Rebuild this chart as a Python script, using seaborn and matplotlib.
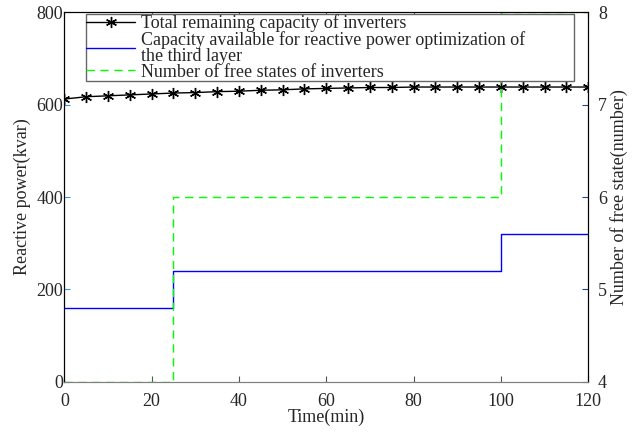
import numpy as np
import pandas as pd
import matplotlib
matplotlib.use("Agg")
import matplotlib.pyplot as plt
import seaborn as sns

# Time axis for the remaining-capacity curve (min)
time_min = list(range(0, 121, 5))
total_capacity = [612, 617, 619, 621, 623, 625, 626, 628, 629, 631, 632, 634, 635,
                  636, 637, 637, 638, 638, 638, 638, 638, 638, 638, 638, 638]

# Step series: change points (min) and values held until next change
step_time = [0, 25, 100, 120]
third_layer_capacity = [160, 240, 320, 320]
free_states = [4, 6, 8, 8]

x_ticks = [0, 20, 40, 60, 80, 100, 120]
left_ticks = [0, 200, 400, 600, 800]
right_ticks = [4, 5, 6, 7, 8]

sns.set_theme(style="white")
plt.rcParams["font.family"] = ["Liberation Serif", "DejaVu Serif"]
FS = 13
plt.rcParams["font.size"] = FS

df_total = pd.DataFrame({"t": time_min, "v": total_capacity})
df_layer = pd.DataFrame({"t": step_time, "v": third_layer_capacity})
df_free = pd.DataFrame({"t": step_time, "v": free_states})

fig = plt.figure(figsize=(6.4, 4.34), dpi=100)
ax = fig.add_axes([0.1005, 0.12, 0.8185, 0.852])
ax2 = ax.twinx()

sns.lineplot(data=df_total, x="t", y="v", ax=ax, color="black", linewidth=1.0,
             marker=(6, 2, 0), markersize=8, markeredgewidth=1.0,
             markeredgecolor="black", label="Total remaining capacity of inverters",
             legend=False)
sns.lineplot(data=df_layer, x="t", y="v", ax=ax, color="#0000FF", linewidth=1.0,
             drawstyle="steps-post",
             label="Capacity available for reactive power optimization of\nthe third layer",
             legend=False)
sns.lineplot(data=df_free, x="t", y="v", ax=ax2, color="#00FF00", linewidth=1.0,
             drawstyle="steps-post", dashes=False, linestyle=(0, (6, 4)),
             label="Number of free states of inverters", legend=False)

ax.set_xlim(0, 120)
ax.set_ylim(0, 800)
ax2.set_ylim(4, 8)
ax.set_xticks(x_ticks)
ax.set_yticks(left_ticks)
ax2.set_yticks(right_ticks)

ax.set_xlabel("Time(min)", fontsize=FS, labelpad=-1)
ax.set_ylabel("Reactive power(kvar)", fontsize=FS, labelpad=4)
ax2.set_ylabel("Number of free state(number)", fontsize=FS, labelpad=2)

for a in (ax, ax2):
    for s in a.spines.values():
        s.set_linewidth(0.8)
        s.set_color("black")
    a.spines["bottom"].set_color("#808080")
    a.grid(False)

ax.tick_params(axis="x", direction="in", length=4, width=0.8, color="#555555",
               top=True, bottom=True, pad=8, labelsize=FS)
ax.tick_params(axis="y", direction="in", length=4, width=0.8, color="#3399DD",
               left=True, right=False, pad=1, labelsize=FS)
ax2.tick_params(axis="y", direction="in", length=4, width=0.8, color="#224488",
                right=True, left=False, pad=7, labelsize=FS)

h1, l1 = ax.get_legend_handles_labels()
h2, l2 = ax2.get_legend_handles_labels()
leg = ax2.legend(h1 + h2, l1 + l2, loc="upper left",
                 bbox_to_anchor=(0.041, 0.6, 0.932, 0.395), mode="expand",
                 borderaxespad=0, frameon=True, fancybox=False, fontsize=FS,
                 handlelength=2.7, handletextpad=0.3, labelspacing=-0.08,
                 borderpad=0.03, framealpha=1)
for t in leg.get_texts():
    t.set_linespacing(0.95)
leg.get_frame().set_edgecolor("#666666")
leg.get_frame().set_linewidth(1.0)

fig.savefig("out.png", dpi=100)
